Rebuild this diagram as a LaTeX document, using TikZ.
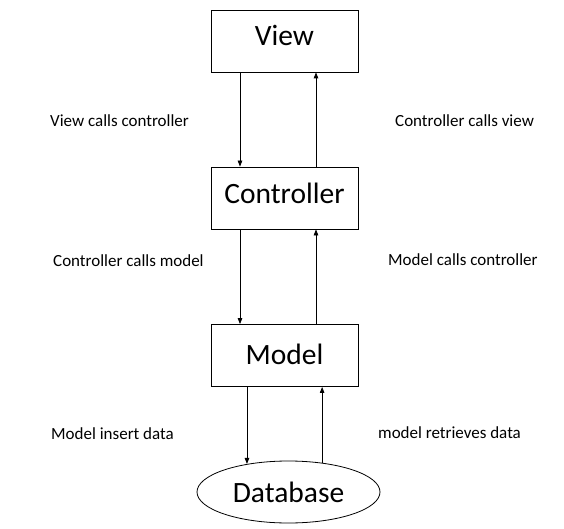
\documentclass[tikz,border=0pt]{standalone}
\usepackage{fontspec}
\setmainfont{Carlito}
\usetikzlibrary{shapes.geometric,arrows.meta}
\tikzset{
  boxnode/.style={draw, line width=0.8pt, minimum width=147pt, minimum height=62pt, inner sep=0pt},
  boxtext/.style={inner sep=0pt, font=\fontsize{29.5}{32}\selectfont},
  dbnode/.style={ellipse, draw, line width=0.8pt, minimum width=183pt, minimum height=62pt, inner sep=0pt, font=\fontsize{29.5}{32}\selectfont},
  lbl/.style={anchor=base west, inner sep=0pt, font=\fontsize{17}{19}\selectfont},
  conn/.style={line width=0.8pt, -{Triangle[length=6pt,width=4.5pt]}}
}
\begin{document}
\begin{tikzpicture}[x=1pt,y=-1pt]
\useasboundingbox (0,0) rectangle (564,529);
\node[boxnode] (view) at (284.5,41) {};
\node[boxtext] (viewt) at ([yshift=6pt]view.center) {View};
\node[boxnode] (ctrl) at (284.5,198) {};
\node[boxtext] (ctrlt) at ([yshift=5pt]ctrl.center) {Controller};
\node[boxnode] (model) at (284.5,355.5) {};
\node[boxtext] (modelt) at ([yshift=1.5pt]model.center) {Model};
\node[dbnode] (db) at (288.5,492) {Database};

\draw[conn] ([xshift=-44.5pt]view.south) -- ([xshift=-44.5pt]ctrl.north);
\draw[conn] ([xshift=31.5pt]ctrl.north) -- ([xshift=31.5pt]view.south);
\draw[conn] ([xshift=-44.5pt]ctrl.south) -- ([xshift=-44.5pt]model.north);
\draw[conn] ([xshift=31.5pt]model.north) -- ([xshift=31.5pt]ctrl.south);
\draw[conn] (db.146.5 |- model.south) -- (db.146.5);
\draw[conn] (db.41) -- (db.41 |- model.south);

\node[lbl] (l1) at (50,127) {View calls controller};
\node[lbl] (l2) at (395,127) {Controller calls view};
\node[lbl] (l3) at (53,266) {Controller calls model};
\node[lbl] (l4) at (388,265) {Model calls controller};
\node[lbl] (l5) at (51,439) {Model insert data};
\node[lbl] (l6) at (378,438) {model retrieves data};
\end{tikzpicture}
\end{document}
